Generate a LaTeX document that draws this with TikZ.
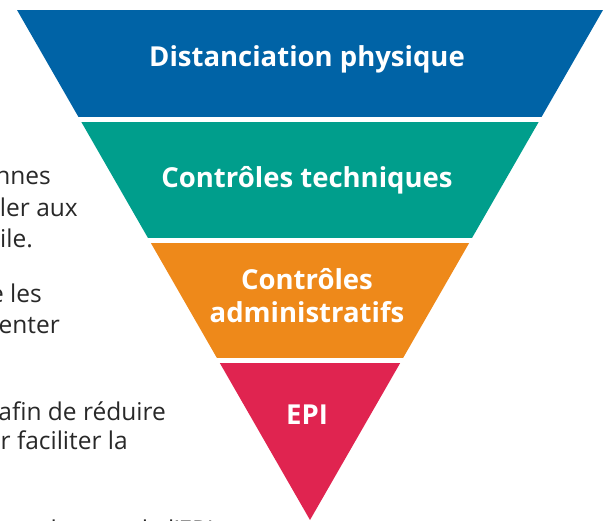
\documentclass[tikz,border=0pt]{standalone}
\usepackage{fontspec}
\setmainfont{Open Sans}
\usetikzlibrary{positioning}
\definecolor{bandblue}{RGB}{0,99,166}
\definecolor{bandteal}{RGB}{0,158,140}
\definecolor{bandorange}{RGB}{238,137,26}
\definecolor{bandred}{RGB}{224,36,80}
\definecolor{bodygray}{RGB}{40,40,40}
\tikzstyle{level} = [
	text=white,
	font=\fontsize{27.5}{33}\selectfont\bfseries,
	align=center
]
\tikzstyle{bodytext} = [
	text=bodygray,
	font=\fontsize{24.5}{31}\selectfont,
	anchor=base east,
	inner sep=0pt
]

\begin{document}
\begin{tikzpicture}[x=1pt, y=-1pt]
	\useasboundingbox (0,0) rectangle (610,521);
	% inverted pyramid, cut into four bands
	\begin{scope}
		\clip (17,10) -- (603,10) -- (310,520) -- cycle;
		\fill[bandblue] (0,10) rectangle (610,117);
		\fill[bandteal] (0,122) rectangle (610,238);
		\fill[bandorange] (0,243) rectangle (610,358);
		\fill[bandred] (0,363) rectangle (610,521);
	\end{scope}
	\node (dist) [level] at (307,59) {Distanciation physique};
	\node (tech) [level] at (307,180) {Contrôles techniques};
	\node (admin) [level] at (307,296) {Contrôles\\administratifs};
	\node (epi) [level] at (307,415) {EPI};

	% text running off the left edge
	\node (t1) [bodytext] at (51,185) {nnes};
	\node (t2) [bodytext] at (78,217) {ler aux};
	\node (t3) [bodytext] at (33,248) {ile.};
	\node (t4) [bodytext] at (42,302) {e les};
	\node (t5) [bodytext] at (60,333) {enter};
	\node (t6) [bodytext] at (166,420) {afin de réduire};
	\node (t7) [bodytext] at (128,449) {r faciliter la};
	\node (t8) [bodytext] at (214,538) {du port de l'EPI};
\end{tikzpicture}
\end{document}
